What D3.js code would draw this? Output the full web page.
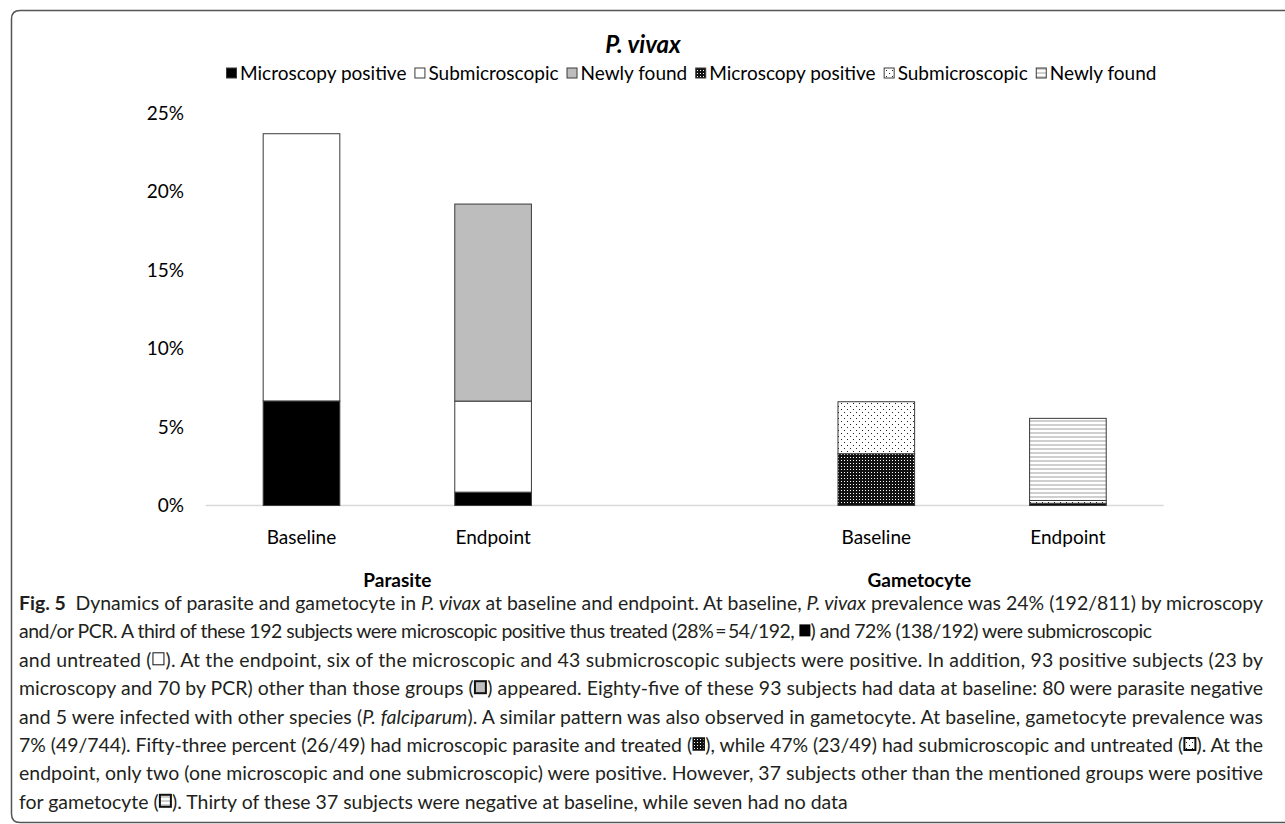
<!DOCTYPE html>
<html><head><meta charset="utf-8">
<script src="https://cdn.jsdelivr.net/npm/d3@7"></script>
<style>body{margin:0;background:#fff}svg{display:block}text{white-space:pre}</style>
</head><body><svg id="c" width="1285" height="824"></svg>
<script>
// ---------- data ----------
const categories = ["Baseline", "Endpoint", "Baseline", "Endpoint"];
const categoryGroup = [0, 0, 1, 1];
const groupNames = ["Parasite", "Gametocyte"];
const seriesKeys = ["pMicro", "pSub", "pNew", "gMicro", "gSub", "gNew"];
const seriesNames = ["Microscopy positive", "Submicroscopic", "Newly found", "Microscopy positive", "Submicroscopic", "Newly found"];
const parasiteMicroscopy = [6.66, 0.85, 0, 0];
const parasiteSubmicroscopic = [17.02, 5.80, 0, 0];
const parasiteNewlyFound = [0, 12.55, 0, 0];
const gametocyteMicroscopy = [0, 0, 3.30, 0.14];
const gametocyteSubmicroscopic = [0, 0, 3.31, 0.18];
const gametocyteNewlyFound = [0, 0, 0, 5.23];
const yTicks = [0, 5, 10, 15, 20, 25];
const titleText = "P. vivax";
const captionLines = [
  [{t: "Fig. 5", b: 1}, "\u2002Dynamics of parasite and gametocyte in ", {t: "P. vivax", i: 1}, " at baseline and endpoint. At baseline, ", {t: "P. vivax", i: 1}, " prevalence was 24% (192/811) by microscopy"],
  ["and/or PCR. A third of these 192 subjects were microscopic positive thus treated (28%\u2009=\u200954/192, ", {sym: 0}, ") and 72% (138/192) were submicroscopic"],
  ["and untreated (", {sym: 1}, "). At the endpoint, six of the microscopic and 43 submicroscopic subjects were positive. In addition, 93 positive subjects (23 by"],
  ["microscopy and 70 by PCR) other than those groups (", {sym: 2}, ") appeared. Eighty-five of these 93 subjects had data at baseline: 80 were parasite negative"],
  ["and 5 were infected with other species (", {t: "P. falciparum", i: 1}, "). A similar pattern was also observed in gametocyte. At baseline, gametocyte prevalence was"],
  ["7% (49/744). Fifty-three percent (26/49) had microscopic parasite and treated (", {sym: 3}, "), while 47% (23/49) had submicroscopic and untreated (", {sym: 4}, "). At the"],
  ["endpoint, only two (one microscopic and one submicroscopic) were positive. However, 37 subjects other than the mentioned groups were positive"],
  ["for gametocyte (", {sym: 5}, "). Thirty of these 37 subjects were negative at baseline, while seven had no data"]
];
const captionLineEnds = [1263, 1152, 1263, 1263, 1263, 1263, 1263, null];

// ---------- setup ----------
const svg = d3.select("#c");
const chartFont = "Lato, 'Open Sans', sans-serif";
const capFont = "Lato, 'Noto Sans', sans-serif";

const defs = svg.append("defs");
const pm = defs.append("pattern").attr("id", "pGMicro").attr("patternUnits", "userSpaceOnUse").attr("width", 3).attr("height", 3);
pm.append("rect").attr("width", 3).attr("height", 3).attr("fill", "#111");
pm.append("rect").attr("x", 1).attr("y", 1).attr("width", 1).attr("height", 1).attr("fill", "#fff");
const ps = defs.append("pattern").attr("id", "pGSub").attr("patternUnits", "userSpaceOnUse").attr("width", 6).attr("height", 6);
ps.append("rect").attr("width", 6).attr("height", 6).attr("fill", "#fff");
ps.append("rect").attr("x", 1).attr("y", 1).attr("width", 1).attr("height", 1).attr("fill", "#222");
ps.append("rect").attr("x", 4).attr("y", 4).attr("width", 1).attr("height", 1).attr("fill", "#222");
const pn = defs.append("pattern").attr("id", "pGNew").attr("patternUnits", "userSpaceOnUse").attr("width", 4).attr("height", 4);
pn.append("rect").attr("width", 4).attr("height", 4).attr("fill", "#fff");
pn.append("rect").attr("y", 0).attr("width", 4).attr("height", 2).attr("fill", "#cfcfcf");

const seriesFill = ["#000", "#fff", "#bdbdbd", "url(#pGMicro)", "url(#pGSub)", "url(#pGNew)"];
const seriesValues = [parasiteMicroscopy, parasiteSubmicroscopic, parasiteNewlyFound, gametocyteMicroscopy, gametocyteSubmicroscopic, gametocyteNewlyFound];

// frame
svg.append("path").attr("d", "M1290,10.5 H20 Q11.5,10.5 11.5,19 V814 Q11.5,822.5 20,822.5 H1290")
  .attr("fill", "none").attr("stroke", "#555").attr("stroke-width", 1.5);

// scales
const slotKeys = ["0", "1", "gap", "2", "3"];
const x = d3.scaleBand().domain(slotKeys).range([205.7, 1163.7]).paddingInner(0.6).paddingOuter(0.3);
const y = d3.scaleLinear().domain([0, 25]).range([505.5, 113]);

// stacked data
const rows = categories.map((c, i) => {
  const r = {slot: String(i)};
  seriesKeys.forEach((k, s) => r[k] = seriesValues[s][i]);
  return r;
});
const stacked = d3.stack().keys(seriesKeys)(rows);

// axis line
svg.append("line").attr("x1", x.range()[0]).attr("x2", x.range()[1]).attr("y1", y(0)).attr("y2", y(0))
  .attr("stroke", "#d9d9d9").attr("stroke-width", 1.5);

// y tick labels
const yAxis = svg.append("g").attr("transform", "translate(184,0)")
  .call(d3.axisLeft(y).tickValues(yTicks).tickFormat(d => d + "%").tickSize(0).tickPadding(0));
yAxis.select(".domain").remove();
yAxis.selectAll("text").style("font-family", chartFont).style("font-size", "19px").attr("fill", "#000");

// bars
stacked.forEach((layer, s) => {
  svg.append("g").selectAll("rect").data(layer.filter(d => d[1] - d[0] > 0)).join("rect")
    .attr("x", d => x(d.data.slot)).attr("width", x.bandwidth())
    .attr("y", d => y(d[1])).attr("height", d => y(d[0]) - y(d[1]))
    .attr("fill", seriesFill[s]).attr("stroke", "#3a3a3a").attr("stroke-width", 1);
});

// category labels
svg.append("g").selectAll("text").data(categories).join("text")
  .attr("x", (d, i) => x(String(i)) + x.bandwidth() / 2).attr("y", 544)
  .attr("text-anchor", "middle").style("font-family", chartFont).style("font-size", "19px").text(d => d);
// group labels (Parasite centred under its pair; Gametocyte sits left of its pair's midpoint as in the source)
groupNames.forEach((g, gi) => {
  const idx = categoryGroup.map((v, i) => v === gi ? i : -1).filter(i => i >= 0);
  let cx = d3.mean(idx, i => x(String(i)) + x.bandwidth() / 2);
  if (gi === 1) cx = x(String(idx[0])) + x.bandwidth() / 2 + 0.225 * x.step();
  svg.append("text").attr("x", cx).attr("y", 587).attr("text-anchor", "middle")
    .style("font-family", chartFont).style("font-size", "19px").style("font-weight", "bold").text(g);
});

// title
svg.append("text").attr("x", 643).attr("y", 53).attr("text-anchor", "middle")
  .style("font-family", chartFont).style("font-size", "24px").style("font-weight", "bold").style("font-style", "italic").text(titleText);

// legend
function swatch(g, s, x0, yc, size) {
  g.append("rect").attr("x", x0).attr("y", yc - size / 2).attr("width", size).attr("height", size)
    .attr("fill", seriesFill[s]).attr("stroke", "#3a3a3a").attr("stroke-width", 1);
}
(function legend() {
  const g = svg.append("g");
  const fs0 = 17, sw = 10, gapIn = 4, gapOut = 8;
  const x0 = 226, x1 = 1156;
  const tmp = g.append("text").style("font-family", chartFont).style("font-size", fs0 + "px").text(seriesNames.join(""));
  const textW0 = tmp.node().getComputedTextLength(); tmp.remove();
  const fs = fs0 * ((x1 - x0) - seriesNames.length * (sw + gapIn) - (seriesNames.length - 1) * gapOut) / textW0;
  let cx = x0; const yc = 73;
  seriesNames.forEach((n, s) => {
    swatch(g, s, cx + 0.5, yc, sw);
    cx += sw + gapIn;
    const t = g.append("text").attr("x", cx).attr("y", yc + fs * 0.35).style("font-family", chartFont)
      .style("font-size", fs + "px").text(n);
    cx += t.node().getComputedTextLength() + gapOut;
  });
})();

// caption
(function caption() {
  const g = svg.append("g");
  function build(line, yb, fs) {
    const t = g.append("text").attr("x", 19).attr("y", yb).style("font-family", capFont)
      .style("font-size", fs + "px").attr("fill", "#231f20");
    let idx = 0; const syms = [];
    line.forEach(s => {
      if (typeof s === "string") { t.append("tspan").text(s); idx += s.length; }
      else if (s.sym !== undefined) {
        const ph = "\u2002\u2009\u200a";
        t.append("tspan").text(ph); syms.push({k: s.sym, a: idx, b: idx + ph.length - 1}); idx += ph.length;
      } else {
        const ts = t.append("tspan").text(s.t);
        if (s.b) ts.style("font-weight", "bold");
        if (s.i) ts.style("font-style", "italic");
        idx += s.t.length;
      }
    });
    return {t, syms};
  }
  const probe = build(captionLines[0], -100, 17);
  const w0 = probe.t.node().getComputedTextLength(); probe.t.remove();
  const fs = 17 * (1263 - 19) / w0;
  captionLines.forEach((line, i) => {
    const yb = 610 + i * 28.4;
    const {t, syms} = build(line, yb, fs);
    if (captionLineEnds[i]) t.attr("textLength", captionLineEnds[i] - 19).attr("lengthAdjust", "spacing");
    syms.forEach(sy => {
      const ea = t.node().getExtentOfChar(sy.a), eb = t.node().getExtentOfChar(sy.b);
      const x0 = ea.x, x1 = eb.x + eb.width, w = 11, h = 12;
      const xm = (x0 + x1) / 2;
      const strokeW = [0, 1, 2, 1.5, 2, 2][sy.k];
      g.append("rect").attr("x", xm - w / 2).attr("y", yb - fs * 0.72).attr("width", w).attr("height", h)
        .attr("fill", seriesFill[sy.k]).attr("stroke", "#111").attr("stroke-width", strokeW);
    });
  });
})();
</script></body></html>
